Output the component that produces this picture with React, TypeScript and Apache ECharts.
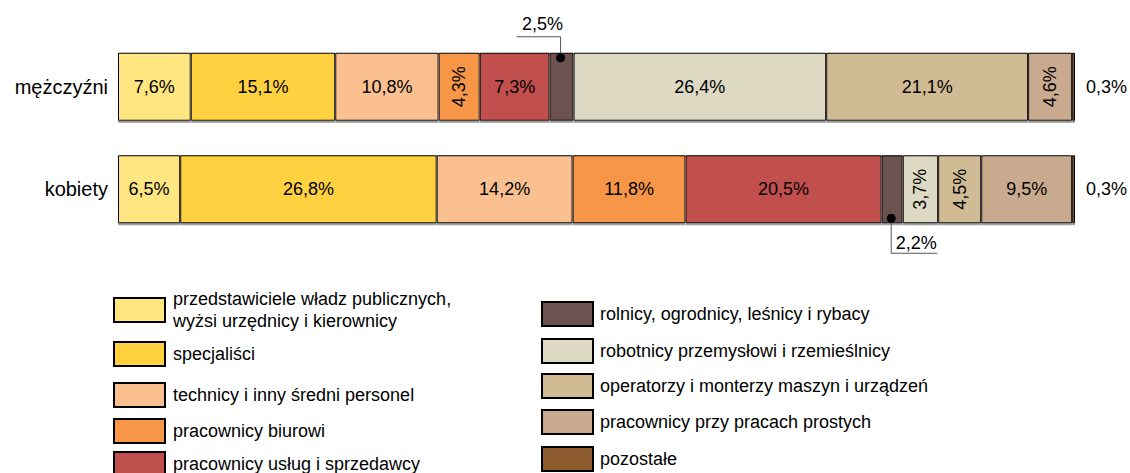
import React, { useEffect, useRef } from "react";
import * as echarts from "echarts";

const categories = ["mężczyźni", "kobiety"];
const groups = [
  "przedstawiciele władz publicznych, wyżsi urzędnicy i kierownicy",
  "specjaliści",
  "technicy i inny średni personel",
  "pracownicy biurowi",
  "pracownicy usług i sprzedawcy",
  "rolnicy, ogrodnicy, leśnicy i rybacy",
  "robotnicy przemysłowi i rzemieślnicy",
  "operatorzy i monterzy maszyn i urządzeń",
  "pracownicy przy pracach prostych",
  "pozostałe",
];
const menValues = [7.6, 15.1, 10.8, 4.3, 7.3, 2.5, 26.4, 21.1, 4.6, 0.3];
const womenValues = [6.5, 26.8, 14.2, 11.8, 20.5, 2.2, 3.7, 4.5, 9.5, 0.3];
const colors = [
  "#FFE680",
  "#FFD13F",
  "#FAC090",
  "#F79646",
  "#C0504D",
  "#6D524F",
  "#DDD9C3",
  "#D0BB94",
  "#CAAA8E",
  "#8C5A2C",
];

const FONT = "'Liberation Sans', Arial, sans-serif";
const BAR_W = 68;

const fmt = (v: number) => v.toFixed(1).replace(".", ",") + "%";

// legend slot positions (left, top of icon box)
const legendSlots = [
  [113, 298],
  [113, 341],
  [113, 382],
  [113, 418],
  [113, 451],
  [541, 301],
  [541, 338],
  [541, 373],
  [541, 409],
  [541, 446],
];

function labelFor(v: number) {
  if (v < 1) {
    return {
      show: true,
      position: "right",
      distance: 11,
      formatter: fmt(v),
      color: "#000",
      fontSize: 18,
      fontFamily: FONT,
    };
  }
  if (v < 3) {
    return { show: false };
  }
  if (v < 5) {
    return {
      show: true,
      position: "inside",
      rotate: 90,
      formatter: fmt(v),
      color: "#000",
      fontSize: 18,
      fontFamily: FONT,
    };
  }
  return {
    show: true,
    position: "inside",
    formatter: fmt(v),
    color: "#000",
    fontSize: 18,
    fontFamily: FONT,
  };
}

export default function App() {
  const ref = useRef<HTMLDivElement>(null);

  useEffect(() => {
    if (!ref.current) return;
    const chart = echarts.init(ref.current, null, { renderer: "svg" });

    const series = groups.map((g, gi) => ({
      name: g,
      type: "bar",
      stack: "total",
      barWidth: BAR_W,
      itemStyle: {
        color: colors[gi],
        borderColor: "#000",
        borderWidth: 1,
        shadowColor: "#9a9a9a",
        shadowOffsetY: 2,
        shadowBlur: 0,
      },
      emphasis: { disabled: true },
      data: [menValues[gi], womenValues[gi]].map((v) => ({
        value: v,
        label: labelFor(v),
      })),
    }));

    const legends = groups.map((g, gi) => {
      const [left, top] = legendSlots[gi];
      const twoLine = g.indexOf(", ") > 0 && gi === 0;
      const padLeft = left < 300 ? 3 : 2;
      return {
        orient: "vertical",
        left,
        top: twoLine ? top - 15 : top,
        padding: 0,
        itemWidth: 51,
        itemHeight: 24,
        selectedMode: false,
        icon: "rect",
        data: [g],
        formatter: (name: string) => (twoLine ? name.replace(", ", ",\n") : name),
        textStyle: {
          fontSize: 18,
          lineHeight: 22,
          color: "#000",
          fontFamily: FONT,
          padding: twoLine ? [10, 0, 0, padLeft] : [0, 0, 0, padLeft],
        },
      };
    });

    chart.setOption({
      animation: false,
      grid: { left: 118, right: 55, top: 35.5, height: 205, containLabel: false },
      xAxis: { type: "value", min: 0, max: 100, show: false },
      yAxis: {
        type: "category",
        data: categories,
        inverse: true,
        axisLine: { show: false },
        axisTick: { show: false },
        axisLabel: { fontSize: 20, color: "#000", margin: 10, fontFamily: FONT },
      },
      legend: legends,
      series,
    });

    // callouts for small segments, positioned through the axes
    const graphics: any[] = [];
    categories.forEach((cat, ci) => {
      const vals = ci === 0 ? menValues : womenValues;
      let cum = 0;
      vals.forEach((v) => {
        if (v >= 1 && v < 3) {
          const p = chart.convertToPixel({ gridIndex: 0 }, [cum + v / 2, cat]) as number[];
          const cx = p[0] - 1;
          const cy = p[1];
          const textStyle = {
            fontSize: 18,
            fontFamily: FONT,
            fill: "#000",
            align: "center",
            verticalAlign: "middle",
          };
          if (ci === 0) {
            const top = cy - BAR_W / 2;
            const dy = top + 5;
            graphics.push({
              type: "polyline",
              silent: true,
              shape: { points: [[cx, dy], [cx, top - 16], [cx - 44, top - 16]] },
              style: { stroke: "#555", lineWidth: 1, fill: null },
              z: 100,
            });
            graphics.push({
              type: "circle",
              silent: true,
              shape: { cx, cy: dy, r: 4.5 },
              style: { fill: "#000" },
              z: 101,
            });
            graphics.push({
              type: "text",
              silent: true,
              x: cx - 18,
              y: top - 29,
              style: { ...textStyle, text: fmt(v) },
              z: 101,
            });
          } else {
            const bottom = cy + BAR_W / 2;
            const dy = bottom - 5;
            graphics.push({
              type: "polyline",
              silent: true,
              shape: { points: [[cx, dy], [cx, bottom + 30], [cx + 46, bottom + 30]] },
              style: { stroke: "#555", lineWidth: 1, fill: null },
              z: 100,
            });
            graphics.push({
              type: "circle",
              silent: true,
              shape: { cx, cy: dy, r: 4.5 },
              style: { fill: "#000" },
              z: 101,
            });
            graphics.push({
              type: "text",
              silent: true,
              x: cx + 25,
              y: bottom + 20,
              style: { ...textStyle, text: fmt(v) },
              z: 101,
            });
          }
        }
        cum += v;
      });
    });
    chart.setOption({ graphic: graphics });

    return () => chart.dispose();
  }, []);

  return (
    <div
      ref={ref}
      style={{ position: "absolute", left: 0, top: 0, width: 1130, height: 473, background: "#fff" }}
    />
  );
}
